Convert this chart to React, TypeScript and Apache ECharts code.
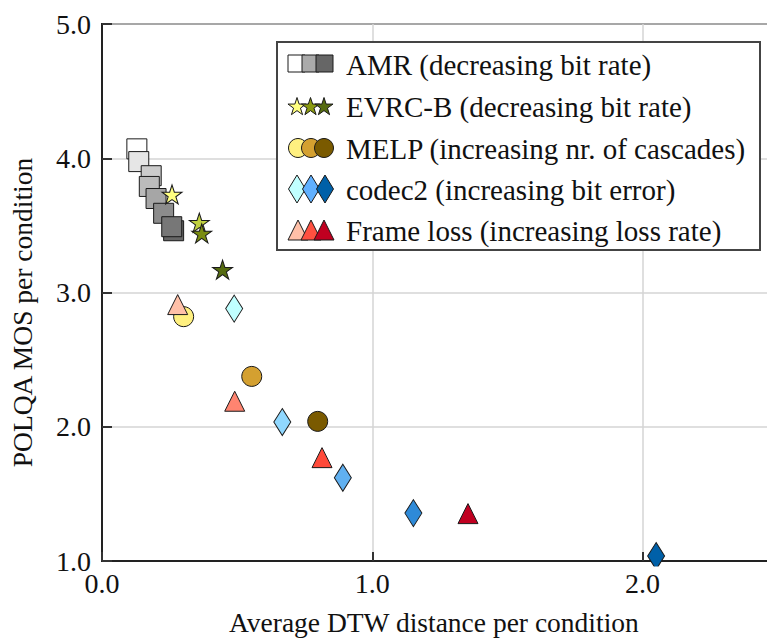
import React, { useEffect, useRef } from "react";
import * as echarts from "echarts";

// ---- data ----
const amrX = [0.129, 0.136, 0.182, 0.175, 0.2, 0.228, 0.265, 0.258];
const amrY = [4.07, 3.975, 3.87, 3.79, 3.7, 3.59, 3.46, 3.49];
const amrColors = ["#ffffff", "#e6e6e6", "#cccccc", "#bbbbbb", "#a6a6a6", "#8c8c8c", "#666666", "#777777"];

const evrcX = [0.259, 0.36, 0.369, 0.446];
const evrcY = [3.73, 3.52, 3.44, 3.17];
const evrcColors = ["#ffff80", "#c0d040", "#7a8c10", "#556b10"];

const melpX = [0.302, 0.554, 0.798];
const melpY = [2.82, 2.375, 2.04];
const melpColors = ["#fff080", "#d4a030", "#7a5a00"];

const codecX = [0.489, 0.667, 0.891, 1.152, 2.05];
const codecY = [2.88, 2.035, 1.62, 1.357, 1.037];
const codecColors = ["#c0ffff", "#90d8ff", "#60b0f0", "#2e8ad8", "#0060a8"];

const lossX = [0.28, 0.491, 0.814, 1.354];
const lossY = [2.91, 2.19, 1.77, 1.353];
const lossColors = ["#ffc0a8", "#ff8470", "#ff4a3a", "#c00020"];

const legendLabels = [
  "AMR (decreasing bit rate)",
  "EVRC-B (decreasing bit rate)",
  "MELP (increasing nr. of cascades)",
  "codec2 (increasing bit error)",
  "Frame loss (increasing loss rate)",
];
const legendIconColors = [
  ["#ffffff", "#aaaaaa", "#666666"],
  ["#ffff80", "#8a9a10", "#556b10"],
  ["#fff080", "#d4a030", "#7a5a00"],
  ["#c0ffff", "#60b0ff", "#0060a8"],
  ["#ffc0a8", "#ff5040", "#c00020"],
];

const xTicks = [0, 1, 2];
const yTicks = [1, 2, 3, 4, 5];

const STAR =
  "path://M100,0 L122.45,69.1 L195.1,69.1 L136.3,111.8 L158.8,180.9 L100,138.2 L41.2,180.9 L63.7,111.8 L4.9,69.1 L77.55,69.1 Z";

const FONT = "'Liberation Serif', 'Times New Roman', serif";
const EDGE = "#1a1a1a";

function pts(xs: number[], ys: number[], colors: string[]) {
  return xs.map((x, i) => ({ value: [x, ys[i]], itemStyle: { color: colors[i] } }));
}

function starPoints(cx: number, cy: number, R: number) {
  const p: number[][] = [];
  for (let k = 0; k < 10; k++) {
    const r = k % 2 === 0 ? R : R * 0.382;
    const a = ((-90 + k * 36) * Math.PI) / 180;
    p.push([cx + r * Math.cos(a), cy + r * Math.sin(a)]);
  }
  return p;
}

export default function App() {
  const ref = useRef<HTMLDivElement>(null);
  useEffect(() => {
    const chart = echarts.init(ref.current!, null, { renderer: "svg" });

    const rowY = [64, 106, 148, 189, 230];
    const icons: any[] = [];
    const offs = [0, 13, 26];
    rowY.forEach((cy, r) => {
      offs.forEach((o, j) => {
        const col = legendIconColors[r][j];
        const base = { z: 51, style: { fill: col, stroke: EDGE, lineWidth: 1 } };
        if (r === 0) {
          icons.push({ type: "rect", shape: { x: 288 + o + j, y: cy - 9, width: 17, height: 17 }, ...base });
        } else if (r === 1) {
          icons.push({ type: "polygon", shape: { points: starPoints(297 + o + j * 0.5, cy + 1, 9.5) }, ...base });
        } else if (r === 2) {
          icons.push({ type: "circle", shape: { cx: 298 + o, cy, r: 9.5 }, ...base });
        } else if (r === 3) {
          const cx = 297 + o + j;
          icons.push({
            type: "polygon",
            shape: { points: [[cx, cy - 14], [cx + 8.5, cy], [cx, cy + 14], [cx - 8.5, cy]] },
            ...base,
          });
        } else {
          const cx = 298 + o;
          icons.push({
            type: "polygon",
            shape: { points: [[cx, cy - 10], [cx + 10, cy + 10], [cx - 10, cy + 10]] },
            ...base,
          });
        }
      });
    });
    const texts = legendLabels.map((t, i) => ({
      type: "text",
      z: 52,
      style: {
        text: t,
        x: 346,
        y: rowY[i] + 1,
        fontSize: 29,
        fontFamily: FONT,
        fill: "#111",
        verticalAlign: "middle",
      },
    }));

    const symStyle = { borderColor: EDGE, borderWidth: 1, opacity: 1 };

    chart.setOption({
      animation: false,
      backgroundColor: "#fff",
      grid: {
        left: 99,
        top: 24,
        width: 678.75,
        height: 541,
        show: true,
        borderColor: "#222",
        borderWidth: 2,
        backgroundColor: "transparent",
      },
      xAxis: {
        type: "value",
        min: 0,
        max: 2.5,
        interval: 1,
        name: "Average DTW distance per condition",
        nameLocation: "middle",
        nameGap: 47,
        nameTextStyle: { fontSize: 27.5, fontFamily: FONT, color: "#111", padding: [0, 12, 0, 0] },
        axisLine: { show: true, lineStyle: { color: "#222", width: 2 } },
        axisTick: { show: true, inside: true, length: 9, lineStyle: { color: "#333", width: 2 } },
        splitLine: { show: true, lineStyle: { color: "#d4d4d4", width: 1.5 } },
        axisLabel: {
          margin: 8,
          fontSize: 28,
          fontFamily: FONT,
          color: "#111",
          formatter: (v: number) => (xTicks.includes(v) ? v.toFixed(1) : ""),
        },
      },
      yAxis: {
        type: "value",
        min: 1,
        max: 5,
        interval: 1,
        name: "POLQA MOS per condition",
        nameLocation: "middle",
        nameGap: 66,
        nameTextStyle: { fontSize: 27.5, fontFamily: FONT, color: "#111", padding: [0, 40, 0, 0] },
        axisLine: { show: true, lineStyle: { color: "#222", width: 2 } },
        axisTick: { show: true, inside: true, length: 10, lineStyle: { color: "#333", width: 2 } },
        splitLine: { show: true, lineStyle: { color: "#d4d4d4", width: 1.5 } },
        axisLabel: {
          margin: 11,
          fontSize: 28,
          fontFamily: FONT,
          color: "#111",
          formatter: (v: number) => (yTicks.includes(v) ? v.toFixed(1) : ""),
        },
      },
      series: [
        { type: "scatter", name: "AMR", symbol: "rect", symbolSize: 20, itemStyle: symStyle, data: pts(amrX, amrY, amrColors) },
        { type: "scatter", name: "EVRC-B", symbol: STAR, symbolSize: [20, 19], itemStyle: symStyle, data: pts(evrcX, evrcY, evrcColors) },
        { type: "scatter", name: "MELP", symbol: "circle", symbolSize: 20, itemStyle: symStyle, data: pts(melpX, melpY, melpColors) },
        { type: "scatter", name: "codec2", symbol: "diamond", symbolSize: [17, 27], itemStyle: symStyle, data: pts(codecX, codecY, codecColors) },
        { type: "scatter", name: "Frame loss", symbol: "triangle", symbolSize: 20, itemStyle: symStyle, data: pts(lossX, lossY, lossColors) },
      ],
      graphic: [
        // mask so the clipped marker does not show below the x axis
        { type: "rect", z: 100, shape: { x: 620, y: 566.5, width: 80, height: 8 }, style: { fill: "#fff" } },
        {
          type: "rect",
          z: 50,
          shape: { x: 277, y: 42, width: 483, height: 208 },
          style: { fill: "#fff", stroke: "#444", lineWidth: 2 },
        },
        ...icons,
        ...texts,
      ],
    });
    return () => chart.dispose();
  }, []);
  return (
    <div
      style={{
        position: "fixed",
        left: 0,
        top: 0,
        width: 767,
        height: 641,
        overflow: "hidden",
        background: "#fff",
      }}
    >
      <div ref={ref} style={{ width: 800, height: 641 }} />
    </div>
  );
}
